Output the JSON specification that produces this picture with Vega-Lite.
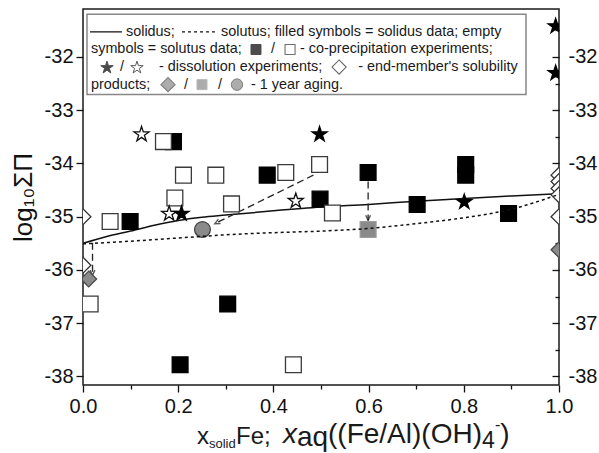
{
  "$schema": "https://vega.github.io/schema/vega-lite/v6.json",
  "width": 476,
  "height": 376,
  "autosize": "none",
  "padding": {"left": 83, "top": 9, "right": 40, "bottom": 68},
  "background": "white",
  "config": {
    "view": {"stroke": "#1a1a1a", "strokeWidth": 1.5},
    "font": "Liberation Sans",
    "axis": {"grid": false, "domain": false, "labelFont": "Liberation Sans", "labelFontSize": 20, "labelColor": "#111111", "tickColor": "#111111", "tickWidth": 1.3, "titleFont": "Liberation Sans", "titleFontWeight": "normal", "titleColor": "#111111", "labelOverlap": false, "labelFlush": false},
    "text": {"font": "Liberation Sans", "color": "#1a1a1a"}
  },
  "datasets": {
    "points": [
      {"x": 0.19, "y": -33.59, "kind": "co_solid"},
      {"x": 0.387, "y": -34.22, "kind": "co_solid"},
      {"x": 0.498, "y": -34.67, "kind": "co_solid"},
      {"x": 0.099, "y": -35.09, "kind": "co_solid"},
      {"x": 0.304, "y": -36.64, "kind": "co_solid"},
      {"x": 0.204, "y": -37.78, "kind": "co_solid"},
      {"x": 0.599, "y": -34.17, "kind": "co_solid"},
      {"x": 0.702, "y": -34.77, "kind": "co_solid"},
      {"x": 0.804, "y": -34.02, "kind": "co_solid"},
      {"x": 0.804, "y": -34.22, "kind": "co_solid"},
      {"x": 0.894, "y": -34.94, "kind": "co_solid"},
      {"x": 0.169, "y": -33.59, "kind": "co_aq"},
      {"x": 0.211, "y": -34.22, "kind": "co_aq"},
      {"x": 0.279, "y": -34.22, "kind": "co_aq"},
      {"x": 0.426, "y": -34.17, "kind": "co_aq"},
      {"x": 0.497, "y": -34.02, "kind": "co_aq"},
      {"x": 0.524, "y": -34.93, "kind": "co_aq"},
      {"x": 0.193, "y": -34.65, "kind": "co_aq"},
      {"x": 0.312, "y": -34.76, "kind": "co_aq"},
      {"x": 0.057, "y": -35.09, "kind": "co_aq"},
      {"x": 0.015, "y": -36.64, "kind": "co_aq"},
      {"x": 0.442, "y": -37.78, "kind": "co_aq"},
      {"x": 0.0, "y": -35.0, "kind": "end"},
      {"x": 0.0, "y": -35.91, "kind": "end"},
      {"x": 1.0, "y": -34.22, "kind": "end"},
      {"x": 1.0, "y": -34.34, "kind": "end"},
      {"x": 1.0, "y": -34.47, "kind": "end"},
      {"x": 1.0, "y": -34.59, "kind": "end"},
      {"x": 1.0, "y": -35.0, "kind": "end"},
      {"x": 0.012, "y": -36.17, "kind": "age_d"},
      {"x": 1.0, "y": -35.62, "kind": "age_d"},
      {"x": 0.599, "y": -35.24, "kind": "age_s"},
      {"x": 0.251, "y": -35.24, "kind": "age_c"},
      {"x": 0.123, "y": -33.44, "kind": "dis_aq"},
      {"x": 0.447, "y": -34.69, "kind": "dis_aq"},
      {"x": 0.181, "y": -34.93, "kind": "dis_aq"},
      {"x": 0.497, "y": -33.44, "kind": "dis_solid"},
      {"x": 0.207, "y": -34.93, "kind": "dis_solid"},
      {"x": 0.801, "y": -34.71, "kind": "dis_solid"},
      {"x": 0.993, "y": -31.41, "kind": "dis_solid"},
      {"x": 0.993, "y": -32.29, "kind": "dis_solid"}
    ],
    "solidus": [
      {"x": 0.0, "y": -35.5}, {"x": 0.05, "y": -35.37}, {"x": 0.1, "y": -35.27}, {"x": 0.15, "y": -35.16},
      {"x": 0.2, "y": -35.07}, {"x": 0.25, "y": -35.01}, {"x": 0.3, "y": -34.97}, {"x": 0.4, "y": -34.89},
      {"x": 0.5, "y": -34.82}, {"x": 0.6, "y": -34.77}, {"x": 0.7, "y": -34.71}, {"x": 0.8, "y": -34.66},
      {"x": 0.9, "y": -34.61}, {"x": 1.0, "y": -34.57}
    ],
    "solutus": [
      {"x": 0.0, "y": -35.51}, {"x": 0.1, "y": -35.46}, {"x": 0.2, "y": -35.4}, {"x": 0.3, "y": -35.34},
      {"x": 0.4, "y": -35.3}, {"x": 0.5, "y": -35.27}, {"x": 0.6, "y": -35.22}, {"x": 0.7, "y": -35.13},
      {"x": 0.8, "y": -35.02}, {"x": 0.85, "y": -34.95}, {"x": 0.9, "y": -34.86}, {"x": 0.95, "y": -34.73},
      {"x": 1.0, "y": -34.58}
    ],
    "arrows": [
      {"x": 0.02, "y": -35.49, "x2": 0.02, "y2": -36.1},
      {"x": 0.484, "y": -34.22, "x2": 0.277, "y2": -35.13},
      {"x": 0.599, "y": -34.34, "x2": 0.599, "y2": -35.07}
    ]
  },
  "layer": [
    {
      "data": {"values": [{}]},
      "layer": [
        {
          "data": {"name": "solidus"},
          "mark": {"type": "line", "color": "#111111", "strokeWidth": 1.5, "interpolate": "monotone", "clip": true},
          "encoding": {
            "x": {"field": "x", "type": "quantitative", "scale": {"domain": [0, 1], "nice": false, "zero": false},
              "axis": {"orient": "bottom", "title": null, "values": [0, 0.1, 0.2, 0.3, 0.4, 0.5, 0.6, 0.7, 0.8, 0.9, 1.0],
                "labelExpr": "abs(datum.value*5-round(datum.value*5))<0.001 ? format(datum.value,'.1f') : ''",
                "tickSize": {"condition": {"test": "abs(datum.value*5-round(datum.value*5))>0.001", "value": 4}, "value": 7},
                "labelPadding": 4}},
            "y": {"field": "y", "type": "quantitative", "scale": {"domain": [-38.16, -31.1], "nice": false, "zero": false},
              "axis": {"orient": "left", "title": "log₁₀ΣΠ", "titleFontSize": 26, "titlePadding": 8,
                "values": [-38, -37.5, -37, -36.5, -36, -35.5, -35, -34.5, -34, -33.5, -33, -32.5, -32, -31.5],
                "labelExpr": "datum.value % 1 === 0 ? '-' + abs(datum.value) : ''",
                "tickSize": {"condition": {"test": "datum.value % 1 !== 0", "value": 4}, "value": 7},
                "labelPadding": 3}}
          }
        },
        {
          "data": {"name": "arrows"},
          "mark": {"type": "rule", "color": "#222222", "strokeWidth": 1.3, "strokeDash": [7, 4]},
          "encoding": {
            "x": {"field": "x", "type": "quantitative"},
            "y": {"field": "y", "type": "quantitative"},
            "x2": {"field": "x2"},
            "y2": {"field": "y2"}
          }
        },
        {
          "mark": {"type": "point", "shape": "M-0.6,-1.3L0,0L0.6,-1.3", "size": 64, "filled": false, "stroke": "#111111", "strokeWidth": 1.4},
          "encoding": {"x": {"datum": 0.02}, "y": {"datum": -36.1}}
        },
        {
          "mark": {"type": "point", "shape": "M-0.6,-1.3L0,0L0.6,-1.3", "size": 64, "filled": false, "stroke": "#111111", "strokeWidth": 1.4},
          "encoding": {"x": {"datum": 0.599}, "y": {"datum": -35.07}}
        },
        {
          "mark": {"type": "point", "shape": "M-0.6,-1.3L0,0L0.6,-1.3", "size": 64, "filled": false, "stroke": "#111111", "strokeWidth": 1.4, "angle": 63.4},
          "encoding": {"x": {"datum": 0.277}, "y": {"datum": -35.13}}
        },
        {
          "data": {"name": "points"},
          "mark": {"type": "point", "filled": true, "strokeWidth": 1.3, "opacity": 1, "clip": true},
          "encoding": {
            "x": {"field": "x", "type": "quantitative"},
            "y": {"field": "y", "type": "quantitative"},
            "shape": {"field": "kind", "type": "nominal", "legend": null,
              "scale": {"domain": ["co_solid", "co_aq", "end", "age_d", "age_s", "age_c", "dis_aq", "dis_solid"],
                "range": ["square", "square", "diamond", "diamond", "square", "circle",
                  "M0,-0.905L0.2245,-0.214L0.951,-0.214L0.363,0.213L0.588,0.904L0,0.477L-0.588,0.904L-0.363,0.213L-0.951,-0.214L-0.2245,-0.214Z",
                  "M0,-0.905L0.2245,-0.214L0.951,-0.214L0.363,0.213L0.588,0.904L0,0.477L-0.588,0.904L-0.363,0.213L-0.951,-0.214L-0.2245,-0.214Z"]}},
            "size": {"field": "kind", "type": "nominal", "legend": null,
              "scale": {"domain": ["co_solid", "co_aq", "end", "age_d", "age_s", "age_c", "dis_aq", "dis_solid"],
                "range": [250, 250, 440, 400, 250, 324, 420, 420]}},
            "fill": {"field": "kind", "type": "nominal", "legend": null,
              "scale": {"domain": ["co_solid", "co_aq", "end", "age_d", "age_s", "age_c", "dis_aq", "dis_solid"],
                "range": ["#000000", "#ffffff", "#ffffff", "#8a8a8a", "#8a8a8a", "#8a8a8a", "#ffffff", "#000000"]}},
            "stroke": {"field": "kind", "type": "nominal", "legend": null,
              "scale": {"domain": ["co_solid", "co_aq", "end", "age_d", "age_s", "age_c", "dis_aq", "dis_solid"],
                "range": ["#000000", "#3a3a3a", "#333333", "#4a4a4a", "#9a9a9a", "#444444", "#111111", "#000000"]}}
          }
        },
        {
          "mark": {"type": "rect", "fill": "#ffffff", "stroke": "#888888", "strokeWidth": 1.5},
          "encoding": {"x": {"datum": 0.0084}, "x2": {"datum": 0.9307}, "y": {"datum": -31.199}, "y2": {"datum": -32.705}}
        },
        {
          "mark": {"type": "rule", "color": "#111111", "strokeWidth": 1.4},
          "encoding": {"x": {"datum": 0.0147}, "x2": {"datum": 0.0819}, "y": {"datum": -31.53}}
        },
        {
          "mark": {"type": "text", "text": "solidus;", "align": "left", "baseline": "middle", "fontSize": 14.4},
          "encoding": {"x": {"datum": 0.0903}, "y": {"datum": -31.53}}
        },
        {
          "mark": {"type": "rule", "color": "#111111", "strokeWidth": 1.4, "strokeDash": [3, 3]},
          "encoding": {"x": {"datum": 0.208}, "x2": {"datum": 0.277}, "y": {"datum": -31.53}}
        },
        {
          "mark": {"type": "text", "text": "solutus; filled symbols = solidus data; empty", "align": "left", "baseline": "middle", "fontSize": 14.4},
          "encoding": {"x": {"datum": 0.29}, "y": {"datum": -31.53}}
        },
        {
          "mark": {"type": "text", "text": "symbols = solutus data;", "align": "left", "baseline": "middle", "fontSize": 14.4},
          "encoding": {"x": {"datum": 0.0168}, "y": {"datum": -31.86}}
        },
        {
          "mark": {"type": "point", "shape": "square", "size": 100, "filled": true, "fill": "#000000", "stroke": "#000000", "strokeWidth": 1},
          "encoding": {"x": {"datum": 0.3634}, "y": {"datum": -31.86}}
        },
        {
          "mark": {"type": "text", "text": "/", "align": "center", "baseline": "middle", "fontSize": 14.4},
          "encoding": {"x": {"datum": 0.399}, "y": {"datum": -31.86}}
        },
        {
          "mark": {"type": "point", "shape": "square", "size": 100, "filled": true, "fill": "#ffffff", "stroke": "#333333", "strokeWidth": 1.1},
          "encoding": {"x": {"datum": 0.435}, "y": {"datum": -31.86}}
        },
        {
          "mark": {"type": "text", "text": "-  co-precipitation experiments;", "align": "left", "baseline": "middle", "fontSize": 14.4},
          "encoding": {"x": {"datum": 0.456}, "y": {"datum": -31.86}}
        },
        {
          "mark": {"type": "point", "shape": "M0,-0.905L0.2245,-0.214L0.951,-0.214L0.363,0.213L0.588,0.904L0,0.477L-0.588,0.904L-0.363,0.213L-0.951,-0.214L-0.2245,-0.214Z", "size": 170, "filled": true, "fill": "#000000", "stroke": "#000000", "strokeWidth": 1},
          "encoding": {"x": {"datum": 0.0504}, "y": {"datum": -32.19}}
        },
        {
          "mark": {"type": "text", "text": "/", "align": "center", "baseline": "middle", "fontSize": 14.4},
          "encoding": {"x": {"datum": 0.082}, "y": {"datum": -32.19}}
        },
        {
          "mark": {"type": "point", "shape": "M0,-0.905L0.2245,-0.214L0.951,-0.214L0.363,0.213L0.588,0.904L0,0.477L-0.588,0.904L-0.363,0.213L-0.951,-0.214L-0.2245,-0.214Z", "size": 170, "filled": true, "fill": "#ffffff", "stroke": "#111111", "strokeWidth": 1},
          "encoding": {"x": {"datum": 0.1134}, "y": {"datum": -32.19}}
        },
        {
          "mark": {"type": "text", "text": "- dissolution experiments;", "align": "left", "baseline": "middle", "fontSize": 14.4},
          "encoding": {"x": {"datum": 0.1597}, "y": {"datum": -32.19}}
        },
        {
          "mark": {"type": "point", "shape": "diamond", "size": 200, "filled": true, "fill": "#ffffff", "stroke": "#222222", "strokeWidth": 1.1},
          "encoding": {"x": {"datum": 0.538}, "y": {"datum": -32.19}}
        },
        {
          "mark": {"type": "text", "text": "- end-member's solubility", "align": "left", "baseline": "middle", "fontSize": 14.4},
          "encoding": {"x": {"datum": 0.578}, "y": {"datum": -32.19}}
        },
        {
          "mark": {"type": "text", "text": "products;", "align": "left", "baseline": "middle", "fontSize": 14.4},
          "encoding": {"x": {"datum": 0.0168}, "y": {"datum": -32.52}}
        },
        {
          "mark": {"type": "point", "shape": "diamond", "size": 200, "filled": true, "fill": "#8a8a8a", "stroke": "#4a4a4a", "strokeWidth": 1.1},
          "encoding": {"x": {"datum": 0.1786}, "y": {"datum": -32.52}}
        },
        {
          "mark": {"type": "text", "text": "/", "align": "center", "baseline": "middle", "fontSize": 14.4},
          "encoding": {"x": {"datum": 0.2164}, "y": {"datum": -32.52}}
        },
        {
          "mark": {"type": "point", "shape": "square", "size": 100, "filled": true, "fill": "#8a8a8a", "stroke": "#9a9a9a", "strokeWidth": 1},
          "encoding": {"x": {"datum": 0.25}, "y": {"datum": -32.52}}
        },
        {
          "mark": {"type": "text", "text": "/", "align": "center", "baseline": "middle", "fontSize": 14.4},
          "encoding": {"x": {"datum": 0.2878}, "y": {"datum": -32.52}}
        },
        {
          "mark": {"type": "point", "shape": "circle", "size": 130, "filled": true, "fill": "#8a8a8a", "stroke": "#444444", "strokeWidth": 1},
          "encoding": {"x": {"datum": 0.3235}, "y": {"datum": -32.52}}
        },
        {
          "mark": {"type": "text", "text": "-  1 year aging.", "align": "left", "baseline": "middle", "fontSize": 14.4},
          "encoding": {"x": {"datum": 0.353}, "y": {"datum": -32.52}}
        },
        {
          "mark": {"type": "text", "text": "x", "align": "left", "baseline": "alphabetic", "fontSize": 24},
          "encoding": {"x": {"datum": 0.2395}, "y": {"datum": -39.26}}
        },
        {
          "mark": {"type": "text", "text": "solid", "align": "left", "baseline": "alphabetic", "fontSize": 13},
          "encoding": {"x": {"datum": 0.2647}, "y": {"datum": -39.35}}
        },
        {
          "mark": {"type": "text", "text": "Fe;", "align": "left", "baseline": "alphabetic", "fontSize": 24},
          "encoding": {"x": {"datum": 0.3214}, "y": {"datum": -39.26}}
        },
        {
          "mark": {"type": "text", "text": "x", "align": "left", "baseline": "alphabetic", "fontSize": 28, "fontStyle": "italic"},
          "encoding": {"x": {"datum": 0.42}, "y": {"datum": -39.24}}
        },
        {
          "mark": {"type": "text", "text": "aq", "align": "left", "baseline": "alphabetic", "fontSize": 28},
          "encoding": {"x": {"datum": 0.4496}, "y": {"datum": -39.3}}
        },
        {
          "mark": {"type": "text", "text": "((Fe/Al)(OH)", "align": "left", "baseline": "alphabetic", "fontSize": 28},
          "encoding": {"x": {"datum": 0.5147}, "y": {"datum": -39.24}}
        },
        {
          "mark": {"type": "text", "text": "4", "align": "left", "baseline": "alphabetic", "fontSize": 23},
          "encoding": {"x": {"datum": 0.8382}, "y": {"datum": -39.34}}
        },
        {
          "mark": {"type": "text", "text": "-", "align": "left", "baseline": "alphabetic", "fontSize": 16},
          "encoding": {"x": {"datum": 0.8655}, "y": {"datum": -39.0}}
        },
        {
          "mark": {"type": "text", "text": ")", "align": "left", "baseline": "alphabetic", "fontSize": 28},
          "encoding": {"x": {"datum": 0.8765}, "y": {"datum": -39.24}}
        }
      ]
    },
    {
      "data": {"name": "solutus"},
      "mark": {"type": "line", "color": "#111111", "strokeWidth": 1.5, "strokeDash": [3, 3], "interpolate": "monotone", "clip": true},
      "encoding": {
        "x": {"field": "x", "type": "quantitative", "scale": {"domain": [0, 1], "nice": false, "zero": false},
          "axis": {"orient": "bottom", "title": null, "values": [0, 0.1, 0.2, 0.3, 0.4, 0.5, 0.6, 0.7, 0.8, 0.9, 1.0],
            "labelExpr": "abs(datum.value*5-round(datum.value*5))<0.001 ? format(datum.value,'.1f') : ''",
            "tickSize": {"condition": {"test": "abs(datum.value*5-round(datum.value*5))>0.001", "value": 4}, "value": 7},
            "labelPadding": 4}},
        "y": {"field": "y", "type": "quantitative", "scale": {"domain": [-38.16, -31.1], "nice": false, "zero": false},
          "axis": {"orient": "right", "title": null,
            "values": [-38, -37.5, -37, -36.5, -36, -35.5, -35, -34.5, -34, -33.5, -33, -32.5, -32, -31.5],
            "labelExpr": "datum.value % 1 === 0 ? '-' + abs(datum.value) : ''",
            "tickSize": {"condition": {"test": "datum.value % 1 !== 0", "value": -4}, "value": -7},
            "labelPadding": 16}}
      }
    }
  ],
  "resolve": {"axis": {"y": "independent"}}
}
